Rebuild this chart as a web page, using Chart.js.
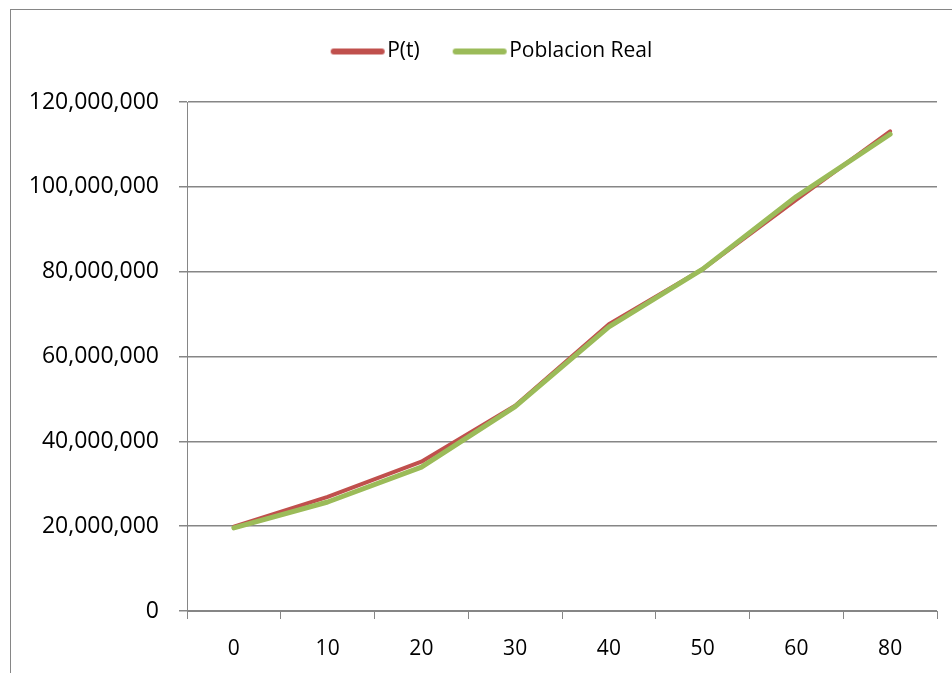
<!DOCTYPE html>
<html>
<head>
<meta charset="utf-8">
<script src="https://cdn.jsdelivr.net/npm/chart.js@4/dist/chart.umd.min.js"></script>
<style>
  html, body { margin: 0; padding: 0; background: #fff; overflow: hidden; }
  #wrap { position: relative; width: 952px; height: 673px; overflow: hidden; }
  #chart { display: block; }
  #frame {
    position: absolute; left: 10px; top: 9px; width: 2000px; height: 2000px;
    border-left: 1px solid #868686; border-top: 1px solid #868686;
    pointer-events: none;
  }
</style>
</head>
<body>
<div id="wrap">
  <canvas id="chart" width="952" height="673"></canvas>
  <div id="frame"></div>
</div>
<script>
// values
const categories = ['0', '10', '20', '30', '40', '50', '60', '80'];
const pT = [19900000, 26900000, 35200000, 48400000, 67600000, 80600000, 97000000, 113100000];
const poblacionReal = [19600000, 25700000, 33900000, 48200000, 67000000, 80600000, 97700000, 112400000];
const yTicks = [0, 20000000, 40000000, 60000000, 80000000, 100000000, 120000000];

const FONT = '"Open Sans", "Liberation Sans", sans-serif';
const GRID = '#868686';
const RED = '#C0504D';
const GREEN = '#9BBB59';

// legend swatch: thick rounded line, a bit wider than the box so the text sits close
function swatch(color) {
  const c = document.createElement('canvas');
  c.width = 56;
  c.height = 10;
  const g = c.getContext('2d');
  g.strokeStyle = color;
  g.lineWidth = 6;
  g.lineCap = 'round';
  g.beginPath();
  g.moveTo(4, 5);
  g.lineTo(52, 5);
  g.stroke();
  return c;
}
const swatches = [swatch(RED), swatch(GREEN)];

// extra room under the legend, and shift it right (the frame is wider than the picture)
const legendTweak = {
  id: 'legendTweak',
  beforeLayout(chart) {
    const lg = chart.legend;
    if (!lg || lg._tweaked) return;
    const fit = lg.fit;
    const draw = lg.draw;
    lg.fit = function () { fit.call(this); this.height += 30; };
    lg.draw = function () {
      this.ctx.save();
      this.ctx.translate(27, 0);
      draw.call(this);
      this.ctx.restore();
    };
    lg._tweaked = true;
  }
};

const ctx = document.getElementById('chart').getContext('2d');
new Chart(ctx, {
  type: 'line',
  data: {
    labels: categories,
    datasets: [
      {
        label: 'P(t)',
        data: pT,
        borderColor: RED,
        backgroundColor: RED,
        borderWidth: 4,
        order: 1
      },
      {
        label: 'Poblacion Real',
        data: poblacionReal,
        borderColor: GREEN,
        backgroundColor: GREEN,
        borderWidth: 5,
        order: 0
      }
    ]
  },
  plugins: [legendTweak],
  options: {
    responsive: false,
    animation: false,
    elements: {
      point: { radius: 0, hoverRadius: 0 },
      line: { tension: 0, borderCapStyle: 'round', borderJoinStyle: 'round' }
    },
    layout: { padding: { left: 0, right: 15, top: 0, bottom: 0 } },
    plugins: {
      tooltip: { enabled: false },
      legend: {
        position: 'top',
        labels: {
          usePointStyle: true,
          pointStyleWidth: 38,
          padding: 41,
          color: '#000',
          font: { family: FONT, size: 21 },
          sort: (a, b) => a.datasetIndex - b.datasetIndex,
          generateLabels: chart => {
            const items = Chart.defaults.plugins.legend.labels.generateLabels(chart);
            items.forEach(it => { it.pointStyle = swatches[it.datasetIndex]; });
            return items;
          }
        }
      }
    },
    scales: {
      x: {
        offset: true,
        grid: {
          display: true,
          drawOnChartArea: false,
          drawTicks: true,
          tickLength: 8,
          offset: true,
          color: GRID,
          lineWidth: 1
        },
        border: { color: GRID, width: 1 },
        ticks: {
          color: '#000',
          padding: 17,
          font: { family: FONT, size: 21 },
          maxRotation: 0
        },
        afterFit: s => { s.height = 62; }
      },
      y: {
        min: 0,
        max: 120000000,
        afterBuildTicks: s => { s.ticks = yTicks.map(v => ({ value: v })); },
        grid: {
          color: GRID,
          lineWidth: 1.5,
          tickLength: 8
        },
        border: { color: GRID, width: 1 },
        ticks: {
          color: '#000',
          padding: 20,
          font: { family: FONT, size: 23 },
          callback: v => v.toLocaleString('en-US')
        },
        afterFit: s => { s.width = 187; }
      }
    }
  }
});
</script>
</body>
</html>
